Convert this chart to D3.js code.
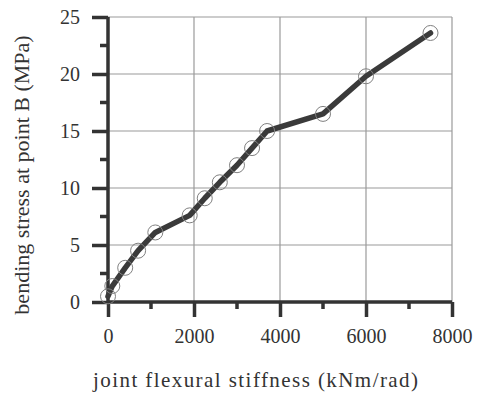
<!DOCTYPE html>
<html>
<head>
<meta charset="utf-8">
<script src="https://cdn.jsdelivr.net/npm/d3@7"></script>
<style>
  html, body { margin: 0; padding: 0; background: #fff; }
  svg { display: block; }
  text { font-family: "Liberation Serif", "Times New Roman", serif; fill: #333; }
</style>
</head>
<body>
<svg id="chart" width="478" height="399"></svg>
<script>
// Data
const stiffness = [0, 100, 400, 700, 1100, 1900, 2250, 2600, 3000, 3350, 3700, 5000, 6000, 7500];
const stress    = [0.5, 1.4, 3.0, 4.5, 6.1, 7.6, 9.1, 10.5, 12.0, 13.5, 15.0, 16.5, 19.8, 23.6];
const xTicks = [0, 2000, 4000, 6000, 8000];
const xMinorTicks = [1000, 3000, 5000, 7000];
const yTicks = [0, 5, 10, 15, 20, 25];
const yMinorTicks = [2.5, 7.5, 12.5, 17.5, 22.5];
const xTitle = "joint flexural stiffness (kNm/rad)";
const yTitle = "bending stress at point B (MPa)";

const svg = d3.select("#chart");
const pLeft = 108, pRight = 452, pTop = 17, pBottom = 302;

const x = d3.scaleLinear().domain([0, 8000]).range([pLeft, pRight]);
const y = d3.scaleLinear().domain([0, 25]).range([pBottom, pTop]);

// Grid
const grid = svg.append("g");
grid.selectAll("line.vx").data(xTicks.filter(d => d > 0)).enter().append("line")
  .attr("x1", d => x(d)).attr("x2", d => x(d))
  .attr("y1", pTop).attr("y2", pBottom)
  .attr("stroke", "#9a9a9a").attr("stroke-width", 1.2);
grid.selectAll("line.hy").data(yTicks.filter(d => d > 0)).enter().append("line")
  .attr("x1", pLeft).attr("x2", pRight)
  .attr("y1", d => y(d)).attr("y2", d => y(d))
  .attr("stroke", "#9a9a9a").attr("stroke-width", 1.2);

// Axes
const axisColor = "#333";
const xAxis = d3.axisBottom(x).tickValues(xTicks).tickSize(15).tickPadding(12).tickFormat(d3.format("d"));
const gx = svg.append("g").attr("transform", `translate(0,${pBottom})`).call(xAxis);
gx.select(".domain").attr("stroke", axisColor).attr("stroke-width", 3.5).attr("d", `M${pLeft},0H${pRight}`);
gx.selectAll(".tick line").attr("stroke", axisColor).attr("stroke-width", 3.5);
gx.selectAll(".tick text").attr("font-size", 20).attr("fill", "#333")
  .attr("font-family", "Liberation Serif, serif");
gx.selectAll("line.minor").data(xMinorTicks).enter().append("line")
  .attr("x1", d => x(d)).attr("x2", d => x(d)).attr("y1", 0).attr("y2", 7)
  .attr("stroke", axisColor).attr("stroke-width", 3.5);

const yAxis = d3.axisLeft(y).tickValues(yTicks).tickSize(16).tickPadding(12);
const gy = svg.append("g").attr("transform", `translate(${pLeft},0)`).call(yAxis);
gy.select(".domain").attr("stroke", axisColor).attr("stroke-width", 3.5).attr("d", `M0,${pTop}V${pBottom}`);
gy.selectAll(".tick line").attr("stroke", axisColor).attr("stroke-width", 3.5);
gy.selectAll(".tick text").attr("font-size", 20).attr("fill", "#333")
  .attr("font-family", "Liberation Serif, serif");
gy.selectAll("line.minor").data(yMinorTicks).enter().append("line")
  .attr("x1", -8).attr("x2", 0).attr("y1", d => y(d)).attr("y2", d => y(d))
  .attr("stroke", axisColor).attr("stroke-width", 3.5);

// Line
const line = d3.line().x((d, i) => x(stiffness[i])).y(d => y(d));
svg.append("path").datum(stress)
  .attr("d", line)
  .attr("fill", "none").attr("stroke", "#3a3a3a").attr("stroke-width", 5.5)
  .attr("stroke-linejoin", "round").attr("stroke-linecap", "round");

// Markers
svg.selectAll("circle.pt").data(stress).enter().append("circle")
  .attr("cx", (d, i) => x(stiffness[i])).attr("cy", d => y(d))
  .attr("r", 7.5).attr("fill", "none").attr("stroke", "#808080").attr("stroke-width", 1);

// Titles
svg.append("text").attr("x", 93).attr("y", 387)
  .attr("font-size", 21).attr("textLength", 325).attr("lengthAdjust", "spacing")
  .text(xTitle);

svg.append("text")
  .attr("transform", "translate(29,175) rotate(-90)")
  .attr("text-anchor", "middle").attr("font-size", 22)
  .text(yTitle);
</script>
</body>
</html>
